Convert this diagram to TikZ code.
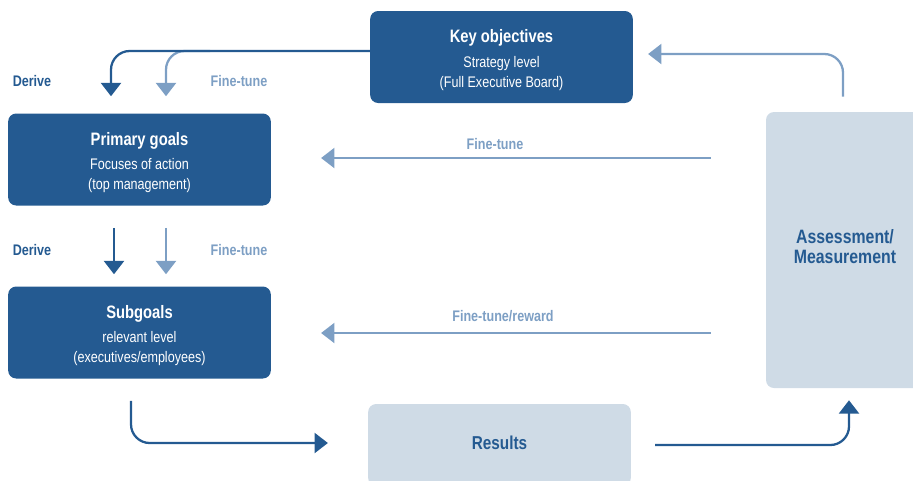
\documentclass[tikz,border=0pt]{standalone}
\usepackage{fontspec}
\setmainfont{Liberation Sans}[FakeStretch=0.82]
\usepackage{tikz}
\usetikzlibrary{arrows.meta,positioning,calc}
\definecolor{deepblue}{HTML}{245A91}
\definecolor{paleline}{HTML}{7D9FC4}
\definecolor{palebox}{HTML}{CFDBE6}
\newcommand{\boxhead}[1]{\rule{0pt}{14.5pt}{\fontsize{13.5}{18}\selectfont\bfseries #1}}

\begin{document}
\begin{tikzpicture}[x=0.75pt,y=-0.75pt,
  font=\fontsize{11.5}{15}\selectfont,
  every node/.style={align=center},
  goalbox/.style={rounded corners=6pt,fill=deepblue,text=white,
              minimum width=197pt,minimum height=69pt,inner sep=0pt},
  resbox/.style={rounded corners=6pt,fill=palebox,inner sep=0pt},
  restag/.style={text=deepblue,font=\fontsize{14.5}{15}\selectfont\bfseries},
  darkflow/.style={-{Triangle[length=10pt,width=15pt]},line width=1.7pt,deepblue,rounded corners=14pt},
  paleflow/.style={-{Triangle[length=10pt,width=15pt]},line width=1.7pt,paleline,rounded corners=14pt},
  darktag/.style={font=\fontsize{11.5}{12}\selectfont\bfseries,text=deepblue},
  paletag/.style={font=\fontsize{11.5}{12}\selectfont\bfseries,text=paleline}
]
\clip (0,0) rectangle (913,480);
% Boxes
\node[goalbox] (key) at (501.5,57)
  {\boxhead{Key objectives}\\[3.5pt]Strategy level\\(Full Executive Board)};
\node[goalbox] (primary) at (139.5,159.5)
  {\boxhead{Primary goals}\\[3.5pt]Focuses of action\\(top management)};
\node[goalbox] (sub) at (139.5,332.5)
  {\boxhead{Subgoals}\\[3.5pt]relevant level\\(executives/employees)};
\node[resbox,minimum width=197pt,minimum height=61.5pt] (results) at (499.5,445) {};
\node[restag,font=\fontsize{14}{15}\selectfont\bfseries] (restxt) at (499.5,443) {Results};
\node[resbox,minimum width=118.5pt,minimum height=207pt] (assess) at (845,250) {};
\node[restag] (assesstxt) at (845,247) {Assessment/\\Measurement};

% Key objectives -> primary goals
\coordinate (fork) at (210,51);
\draw[paleflow] (fork) -| ($(primary.north)+(26.5,-17)$);
\draw[darkflow] ($(key.west)+(0,-6)$) -| ($(primary.north)+(-28.5,-17)$);
\node[darktag] (derive1) at (32,81) {Derive};
\node[paletag] (tune1) at (239,81) {Fine-tune};

% Primary goals -> subgoals
\draw[darkflow] ($(primary.south)+(-25.5,22)$) -- ($(sub.north)+(-25.5,-12)$);
\draw[paleflow] ($(primary.south)+(26.5,22)$) -- ($(sub.north)+(26.5,-12)$);
\node[darktag] (derive2) at (32,250) {Derive};
\node[paletag] (tune2) at (239,250) {Fine-tune};

% Feedback from assessment
\draw[paleflow] ($(assess.west|-primary.east)+(-55,-1.5)$) -- ($(primary.east)+(50,-1.5)$);
\node[paletag] (tune3) at (495,144) {Fine-tune};
\draw[paleflow] ($(assess.west|-sub.east)+(-55,0.5)$) -- ($(sub.east)+(50,0.5)$);
\node[paletag] (tune4) at (503,316) {Fine-tune/reward};

% Subgoals -> results -> assessment -> key objectives
\draw[darkflow] ($(sub.south)+(-8.5,22)$) |- ($(results.west)+(-40,-2)$);
\draw[darkflow] ($(results.east)+(24,0)$) -| ($(assess.south)+(4,12)$);
\draw[paleflow] ($(assess.north)+(-2,-15)$) |- ($(key.east)+(15,-3)$);
\end{tikzpicture}
\end{document}
